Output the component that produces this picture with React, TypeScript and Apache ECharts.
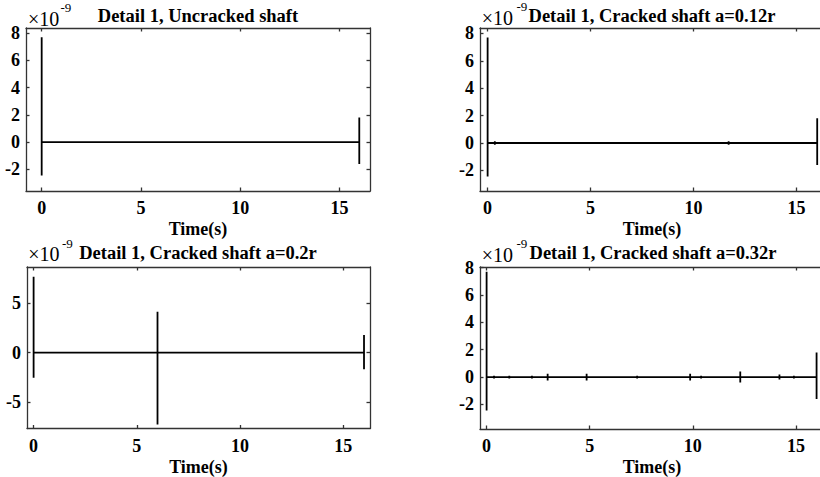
import React, { useEffect, useRef } from "react";
import * as echarts from "echarts";

// ---- data (values in units of 1e-9) ----
const xTickValues = [0, 5, 10, 15];
const yTicksSmall = [-2, 0, 2, 4, 6, 8];
const yTicksWide = [-5, 0, 5];

const titles = [
  "Detail 1, Uncracked shaft",
  "Detail 1, Cracked shaft a=0.12r",
  "Detail 1, Cracked shaft a=0.2r",
  "Detail 1, Cracked shaft a=0.32r",
];

// spikes: time (s), upper value, lower value
const p1Times = [0, 16];
const p1Max = [7.7, 1.8];
const p1Min = [-2.45, -1.6];

const p2Times = [0, 0.35, 11.7, 16];
const p2Max = [7.7, 0.12, 0.12, 1.8];
const p2Min = [-2.45, -0.12, -0.12, -1.6];

const p3Times = [0, 6, 16];
const p3Max = [7.7, 4.15, 1.8];
const p3Min = [-2.55, -7.3, -1.68];

const p4Times = [0, 0.36, 1.1, 2.2, 2.96, 4.85, 7.3, 9.87, 10.4, 12.3, 14.2, 14.9, 16];
const p4Max = [7.7, 0.1, 0.1, 0.1, 0.25, 0.25, 0.1, 0.25, 0.1, 0.4, 0.18, 0.1, 1.8];
const p4Min = [-2.45, -0.1, -0.1, -0.1, -0.25, -0.25, -0.1, -0.25, -0.1, -0.4, -0.18, -0.1, -1.6];

function buildLine(times: number[], maxs: number[], mins: number[]) {
  const out: number[][] = [];
  times.forEach((t, i) => {
    out.push([t, 0], [t, maxs[i]], [t, mins[i]], [t, 0]);
  });
  return out;
}

const FONT = "'Liberation Serif', 'Times New Roman', serif";
const FRAME = "#333333";

const grids = [
  { left: 26, top: 28, width: 344, height: 163 },
  { left: 480, top: 28, width: 344, height: 163 },
  { left: 27, top: 267, width: 343, height: 161.5 },
  { left: 480, top: 267, width: 344, height: 162 },
];
const xRanges = [
  [-0.79, 16.54],
  [-0.37, 16.33],
  [-0.32, 16.29],
  [-0.32, 16.36],
];
const yRanges = [
  [-3.58, 8.37],
  [-3.5, 8.39],
  [-7.7, 8.7],
  [-3.8, 8.05],
];
const yTickSets = [yTicksSmall, yTicksSmall, yTicksWide, yTicksSmall];

export default function App() {
  const ref = useRef<HTMLDivElement>(null);
  useEffect(() => {
    if (!ref.current) return;
    const chart = echarts.init(ref.current, undefined, { renderer: "svg" });

    const lineStyle = { color: FRAME, width: 1.3 };
    const labelStyle = { color: "#000", fontFamily: FONT, fontWeight: "bold" as const, fontSize: 18 };

    const xAxis: any[] = [];
    const yAxis: any[] = [];
    grids.forEach((_, g) => {
      const [xmin, xmax] = xRanges[g];
      const [ymin, ymax] = yRanges[g];
      const yt = yTickSets[g];
      xAxis.push({
        type: "value", gridIndex: g, min: xmin, max: xmax, position: "bottom",
        axisLine: { show: true, onZero: false, lineStyle },
        axisTick: { show: true, inside: true, length: 3.5, customValues: xTickValues, lineStyle },
        axisLabel: { show: true, customValues: xTickValues, margin: 8, ...labelStyle },
        splitLine: { show: false },
        name: "Time(s)", nameLocation: "middle", nameGap: 29,
        nameTextStyle: { ...labelStyle },
      });
      xAxis.push({
        type: "value", gridIndex: g, min: xmin, max: xmax, position: "top",
        axisLine: { show: true, onZero: false, lineStyle },
        axisTick: { show: true, inside: true, length: 3.5, customValues: xTickValues, lineStyle },
        axisLabel: { show: false },
        splitLine: { show: false },
      });
      yAxis.push({
        type: "value", gridIndex: g, min: ymin, max: ymax, position: "left",
        axisLine: { show: true, onZero: false, lineStyle },
        axisTick: { show: true, inside: true, length: 3.5, customValues: yt, lineStyle },
        axisLabel: { show: true, customValues: yt, margin: 6, ...labelStyle },
        splitLine: { show: false },
      });
      yAxis.push({
        type: "value", gridIndex: g, min: ymin, max: ymax, position: "right",
        axisLine: { show: true, onZero: false, lineStyle },
        axisTick: { show: true, inside: true, length: 3.5, customValues: yt, lineStyle },
        axisLabel: { show: false },
        splitLine: { show: false },
      });
    });

    const datasets = [
      buildLine(p1Times, p1Max, p1Min),
      buildLine(p2Times, p2Max, p2Min),
      buildLine(p3Times, p3Max, p3Min),
      buildLine(p4Times, p4Max, p4Min),
    ];

    const series = datasets.map((d, g) => ({
      type: "line",
      xAxisIndex: 2 * g,
      yAxisIndex: 2 * g,
      data: d,
      showSymbol: false,
      symbol: "none",
      lineStyle: { color: "#000", width: 1.8 },
      z: 1,
    }));

    const titlePos = [
      { x: 198, y: 16 },
      { x: 652, y: 16 },
      { x: 198, y: 252.8 },
      { x: 653, y: 253.3 },
    ];
    const multPos = [
      { x: 28, y: 18.5, sx: 60.5, sy: 7 },
      { x: 481.7, y: 18, sx: 516.5, sy: 6.7 },
      { x: 28.3, y: 254.3, sx: 62, sy: 243 },
      { x: 481.7, y: 254.5, sx: 516.5, sy: 243 },
    ];

    const graphic: any[] = [];
    titles.forEach((t, g) => {
      graphic.push({
        type: "text", x: titlePos[g].x, y: titlePos[g].y, z: 10,
        style: { text: t, fill: "#000", fontFamily: FONT, fontWeight: "bold", fontSize: 18.5, align: "center", verticalAlign: "middle" },
      });
      graphic.push({
        type: "text", x: multPos[g].x, y: multPos[g].y, z: 10,
        style: { text: "\u00d710", fill: "#000", fontFamily: FONT, fontWeight: "normal", fontSize: 20, align: "left", verticalAlign: "middle" },
      });
      graphic.push({
        type: "text", x: multPos[g].sx, y: multPos[g].sy, z: 10,
        style: { text: "-9", fill: "#000", fontFamily: FONT, fontWeight: "normal", fontSize: 13, align: "left", verticalAlign: "middle" },
      });
    });

    chart.setOption({
      animation: false,
      backgroundColor: "#fff",
      grid: grids.map((g) => ({ ...g, containLabel: false, outerBoundsMode: "none", show: false })),
      xAxis,
      yAxis,
      series,
      graphic,
    });

    return () => chart.dispose();
  }, []);

  return (
    <div
      ref={ref}
      style={{ position: "fixed", left: 0, top: 0, width: 820, height: 477, background: "#fff" }}
    />
  );
}
